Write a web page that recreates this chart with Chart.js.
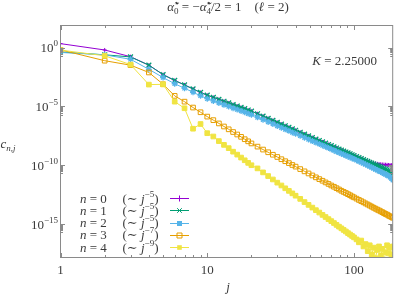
<!DOCTYPE html>
<html>
<head>
<meta charset="utf-8">
<script src="https://cdn.jsdelivr.net/npm/chart.js"></script>
<style>
  html, body { margin: 0; padding: 0; background: #fff; }
  canvas { display: block; }
</style>
</head>
<body>
<canvas id="grafico" width="398" height="295"></canvas>
<script>
// j values and log10(c_{n,j})
const jValues = [1,2,3,4,5,6,7,8,9,10,11,12,13,14,15,16,17,18,19,20,
  22,24,26,28,30,32,34,36,38,40,
  43,46,49,52,55,58,61,64,67,70,73,76,79,82,85,88,91,94,97,100,
  104,108,112,116,120,124,128,132,136,140,144,148,152,156,160,164,168,172,176,180,184];

const logC0 = [0.33,-0.21,-0.78,-1.5,-2.3,-2.8,-3.18,-3.52,-3.82,-4.05,-4.24,-4.41,-4.57,-4.71,-4.85,-4.97,-5.09,-5.2,-5.31,-5.41,
  -5.63,-5.83,-6.02,-6.19,-6.36,-6.51,-6.65,-6.78,-6.91,-7.03,
  -7.2,-7.36,-7.51,-7.65,-7.78,-7.9,-8.02,-8.13,-8.24,-8.34,-8.44,-8.54,-8.63,-8.72,-8.8,-8.88,-8.96,-9.03,-9.11,-9.18,
  -9.27,-9.36,-9.44,-9.53,-9.61,-9.67,-9.73,-9.78,-9.82,-9.85,-9.88,-9.9,-9.92,-9.94,-9.95,-9.96,-9.97,-9.98,-9.99,-10.0,-10.01];

const logC1 = [-0.38,-0.62,-0.8,-1.5,-2.3,-2.8,-3.18,-3.52,-3.82,-4.05,-4.24,-4.41,-4.57,-4.71,-4.85,-4.97,-5.09,-5.2,-5.31,-5.41,
  -5.63,-5.83,-6.02,-6.19,-6.36,-6.51,-6.65,-6.78,-6.91,-7.03,
  -7.2,-7.36,-7.51,-7.65,-7.78,-7.9,-8.02,-8.13,-8.24,-8.34,-8.44,-8.54,-8.63,-8.72,-8.8,-8.88,-8.96,-9.03,-9.11,-9.18,
  -9.27,-9.36,-9.44,-9.53,-9.61,-9.68,-9.76,-9.83,-9.9,-9.97,-10.03,-10.1,-10.16,-10.22,-10.28,-10.34,-10.4,-10.47,-10.54,-10.61,-10.7];

const logC2 = [-0.42,-0.62,-1.0,-1.85,-2.55,-3.08,-3.46,-3.8,-4.1,-4.35,-4.54,-4.71,-4.87,-5.01,-5.15,-5.27,-5.39,-5.5,-5.61,-5.71,
  -5.93,-6.13,-6.32,-6.49,-6.66,-6.81,-6.95,-7.08,-7.21,-7.33,
  -7.5,-7.66,-7.81,-7.95,-8.08,-8.2,-8.32,-8.43,-8.54,-8.64,-8.74,-8.84,-8.93,-9.02,-9.1,-9.18,-9.26,-9.33,-9.41,-9.48,
  -9.58,-9.67,-9.76,-9.85,-9.94,-10.02,-10.11,-10.19,-10.27,-10.35,-10.42,-10.5,-10.57,-10.64,-10.71,-10.78,-10.84,-10.92,-11.02,-11.13,-11.26];

const logC3 = [-0.2,-1.12,-1.5,-2.12,-3.12,-4.11,-4.6,-5.1,-5.5,-5.87,-6.17,-6.45,-6.71,-6.95,-7.18,-7.39,-7.59,-7.79,-7.97,-8.15,
  -8.42,-8.67,-8.9,-9.11,-9.3,-9.49,-9.66,-9.82,-9.98,-10.12,
  -10.33,-10.52,-10.7,-10.87,-11.03,-11.18,-11.32,-11.46,-11.59,-11.72,-11.83,-11.95,-12.06,-12.17,-12.27,-12.36,-12.46,-12.55,-12.65,-12.73,
  -12.84,-12.95,-13.05,-13.15,-13.25,-13.34,-13.43,-13.52,-13.61,-13.69,-13.77,-13.84,-13.92,-13.99,-14.07,-14.14,-14.2,-14.28,-14.34,-14.4,-14.47];

const logC4 = [-0.22,-0.7,-1.45,-3.15,-3.13,-4.6,-5.16,-6.9,-6.5,-7.28,-7.56,-7.95,-8.27,-8.55,-8.85,-9.1,-9.35,-9.58,-9.8,-10.0,
  -10.27,-10.61,-10.92,-11.21,-11.48,-11.72,-11.96,-12.18,-12.39,-12.59,
  -12.86,-13.13,-13.37,-13.6,-13.82,-14.02,-14.22,-14.4,-14.58,-14.75,-14.91,-15.07,-15.22,-15.36,-15.5,-15.63,-15.77,-15.89,-16.01,-16.13,
  -16.3,-16.55,-16.4,-16.9,-16.7,-17.3,-16.8,-17.6,-17.0,-17.9,-17.2,-16.9,-17.7,-17.1,-18.2,-17.4,-16.8,-17.5,-17.0,-17.6,-16.9];

const seriesLogs = [logC0, logC1, logC2, logC3, logC4];
const exponents = ['5', '5', '5', '7', '9'];
const colors = ['#9400d3', '#009e73', '#56b4e9', '#e69f00', '#f0e442'];
const markers = ['cross', 'crossRot', 'star', 'rect', 'rect'];
const xMajor = [1, 10, 100];
const yMajorExp = [0, -5, -10, -15];

const SERIF = '"Liberation Serif", "DejaVu Serif", serif';
const TXT = '#3a3a3a';

function fontOf(p) {
  return (p.i ? 'italic ' : '') + p.s + 'px ' + SERIF;
}

// draws a run of text pieces (sub/superscripts) starting on a baseline
function rich(ctx, x, y, parts, align) {
  let w = 0;
  parts.forEach(p => { ctx.font = fontOf(p); if (!p.stay) w += ctx.measureText(p.t).width; });
  let cx = align === 'right' ? x - w : align === 'center' ? x - w / 2 : x;
  parts.forEach(p => {
    ctx.font = fontOf(p);
    ctx.fillText(p.t, cx, y + (p.dy || 0));
    if (!p.stay) cx += ctx.measureText(p.t).width;
  });
}

function marker(ctx, style, x, y, color) {
  ctx.save();
  ctx.strokeStyle = color; ctx.fillStyle = color; ctx.lineWidth = 1;
  ctx.beginPath();
  if (style === 'cross') {
    ctx.moveTo(x - 3, y); ctx.lineTo(x + 3, y); ctx.moveTo(x, y - 3); ctx.lineTo(x, y + 3); ctx.stroke();
  } else if (style === 'crossRot') {
    ctx.moveTo(x - 2.3, y - 2.3); ctx.lineTo(x + 2.3, y + 2.3); ctx.moveTo(x - 2.3, y + 2.3); ctx.lineTo(x + 2.3, y - 2.3); ctx.stroke();
  } else if (style === 'star') {
    ctx.rect(x - 2.5, y - 2.5, 5, 5); ctx.fill();
  } else if (style === 'open') {
    ctx.rect(x - 2.5, y - 2.5, 5, 5); ctx.stroke();
  } else {
    ctx.rect(x - 2.3, y - 2.3, 4.6, 4.6); ctx.fill();
  }
  ctx.restore();
}

const decor = {
  id: 'decor',
  afterDatasetsDraw(chart) {
    const ctx = chart.ctx, a = chart.chartArea;
    const xs = chart.scales.x, ys = chart.scales.y;
    ctx.save();
    // frame
    ctx.strokeStyle = '#8a8a8a';
    ctx.lineWidth = 1;
    ctx.strokeRect(a.left, a.top, a.right - a.left, a.bottom - a.top);
    // x ticks (inward, mirrored)
    ctx.beginPath();
    [1, 10, 100].forEach(d => {
      for (let k = 1; k <= 9; k++) {
        const v = d * k;
        if (v > xs.max) continue;
        const px = Math.round(xs.getPixelForValue(v)) + 0.5;
        const len = k === 1 ? 4.5 : 2.5;
        ctx.moveTo(px, a.bottom); ctx.lineTo(px, a.bottom - len);
        ctx.moveTo(px, a.top); ctx.lineTo(px, a.top + len);
      }
    });
    // y ticks: majors every 5 decades, minors k*10^(m-1)
    yMajorExp.forEach(m => {
      const py = Math.round(ys.getPixelForValue(Math.pow(10, m))) + 0.5;
      ctx.moveTo(a.left, py); ctx.lineTo(a.left + 4.5, py);
      ctx.moveTo(a.right, py); ctx.lineTo(a.right - 4.5, py);
      for (let k = 2; k <= 9; k++) {
        const q = Math.round(ys.getPixelForValue(k * Math.pow(10, m - 1))) + 0.5;
        ctx.moveTo(a.left, q); ctx.lineTo(a.left + 2.5, q);
        ctx.moveTo(a.right, q); ctx.lineTo(a.right - 2.5, q);
      }
    });
    ctx.stroke();

    ctx.fillStyle = TXT;
    ctx.textBaseline = 'alphabetic';
    // x tick labels
    xMajor.forEach(v => {
      rich(ctx, xs.getPixelForValue(v), 273.5, [{t: String(v), s: 13}], 'center');
    });
    // y tick labels
    yMajorExp.forEach(m => {
      const py = ys.getPixelForValue(Math.pow(10, m));
      const sup = m === 0 ? '0' : '\u2212' + (-m);
      rich(ctx, 58, py + 4.5, [{t: '10', s: 13}, {t: sup, s: 9, dy: -6}], 'right');
    });
    // axis labels
    rich(ctx, 0.5, 148, [{t: 'c', s: 13, i: true}, {t: 'n,j', s: 9, i: true, dy: 3}], 'left');
    rich(ctx, 228, 291, [{t: 'j', s: 13, i: true}], 'center');
    // title
    rich(ctx, 228, 11, [
      {t: '\u03b1\u0303', s: 13, i: true}, {t: '\u22c6', s: 9, dy: -5, stay: true}, {t: '0', s: 9, dy: 3},
      {t: ' = \u2212', s: 13},
      {t: '\u03b1\u0303', s: 13, i: true}, {t: '\u22c6', s: 9, dy: -5, stay: true}, {t: '4', s: 9, dy: 3},
      {t: '/2 = 1    (', s: 13}, {t: '\u2113', s: 13, i: true}, {t: ' = 2)', s: 13}
    ], 'center');
    // K label
    rich(ctx, 377, 64.5, [{t: 'K', s: 13, i: true}, {t: ' = 2.25000', s: 13}], 'right');
    // legend
    seriesLogs.forEach((_, n) => {
      const cy = 198 + 12.3 * n;
      ctx.fillStyle = TXT;
      rich(ctx, 80, cy + 4.5, [{t: 'n', s: 13, i: true}, {t: ' = ' + n, s: 13}], 'left');
      rich(ctx, 122.5, cy + 4.5, [{t: '(\u223c ', s: 13}, {t: 'j', s: 13, i: true},
        {t: '\u2212' + exponents[n], s: 9, dy: -6}, {t: ')', s: 13}], 'left');
      ctx.strokeStyle = colors[n];
      ctx.lineWidth = 1;
      ctx.beginPath();
      ctx.moveTo(170, Math.round(cy) + 0.5); ctx.lineTo(189, Math.round(cy) + 0.5);
      ctx.stroke();
      marker(ctx, n === 3 ? 'open' : markers[n], 179.5, Math.round(cy) + 0.5, colors[n]);
    });
    ctx.restore();
  }
};

const datasets = seriesLogs.map((logs, n) => ({
  label: 'n = ' + n,
  data: jValues.map((j, i) => ({x: j, y: Math.pow(10, logs[i])})),
  borderColor: colors[n],
  backgroundColor: colors[n],
  borderWidth: 1,
  pointStyle: markers[n],
  pointRadius: [2.0, 3.4, 3.0, 3.3, 3.3][n],
  pointBorderWidth: n === 2 || n === 1 ? 1.3 : 1,
  pointBackgroundColor: n === 3 ? 'rgba(255,255,255,0)' : colors[n],
  pointBorderColor: colors[n],
  order: 4 - n
}));

new Chart(document.getElementById('grafico').getContext('2d'), {
  type: 'line',
  data: { datasets: datasets },
  options: {
    responsive: false,
    animation: false,
    devicePixelRatio: 1,
    layout: { padding: { left: 60.5, right: 2.5, top: 25.5, bottom: 37.5 } },
    scales: {
      x: { type: 'logarithmic', min: 1, max: 183.5, display: false },
      y: { type: 'logarithmic', min: Math.pow(10, -17.84), max: Math.pow(10, 1.87), display: false }
    },
    plugins: {
      legend: { display: false },
      title: { display: false },
      tooltip: { enabled: false }
    }
  },
  plugins: [decor]
});
</script>
</body>
</html>
